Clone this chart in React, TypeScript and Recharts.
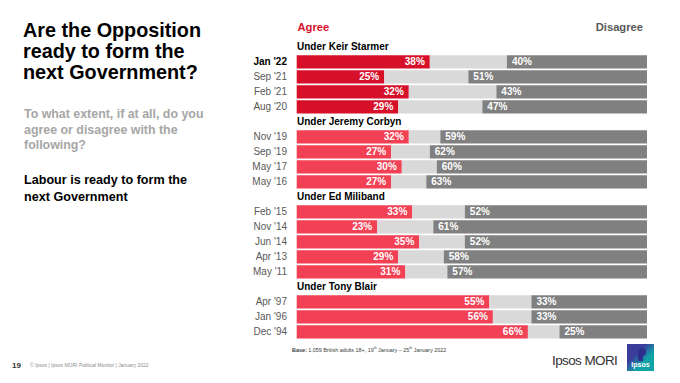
import React from 'react';
import { BarChart, Bar, XAxis, YAxis, Cell, LabelList } from 'recharts';

// survey waves, grouped by Labour leader
const leaders = ['Under Keir Starmer', 'Under Jeremy Corbyn', 'Under Ed Miliband', 'Under Tony Blair'];
const waves = [
    ["Jan '22", "Sep '21", "Feb '21", "Aug '20"],
    ["Nov '19", "Sep '19", "May '17", "May '16"],
    ["Feb '15", "Nov '14", "Jun '14", "Apr '13", "May '11"],
    ["Apr '97", "Jan '96", "Dec '94"],
];
const agree = [
    [38, 25, 32, 29],
    [32, 27, 30, 27],
    [33, 23, 35, 29, 31],
    [55, 56, 66],
];
const disagree = [
    [40, 51, 43, 47],
    [59, 62, 60, 63],
    [52, 61, 52, 58, 57],
    [33, 33, 25],
];

type Row = {
    key: string;
    header: boolean;
    group: number;
    agree?: number;
    neither?: number;
    disagree?: number;
};

// one header row per leader, then that leader's waves
const rows: Row[] = [];
leaders.forEach((name, g) => {
    rows.push({ key: name, header: true, group: g });
    waves[g].forEach((w, i) => {
        rows.push({
            key: w,
            header: false,
            group: g,
            agree: agree[g][i],
            neither: 100 - agree[g][i] - disagree[g][i],
            disagree: disagree[g][i],
        });
    });
});

const FONT = '"Liberation Sans", Arial, sans-serif';
const DARK_RED = '#d7102a';
const LIGHT_RED = '#f24055';

const RowTick = (props: any) => {
    const { y, payload } = props;
    const row = rows.find(r => r.key === payload.value);
    if (!row) return null;
    if (row.header) {
        return (
            <text x={297} y={y} dy="0.35em" fontSize={10} fontWeight={700} fill="#000" fontFamily={FONT}>
                {row.key}
            </text>
        );
    }
    const first = row.key === "Jan '22";
    return (
        <text x={287} y={y} dy="0.35em" textAnchor="end" fontSize={10}
              fontWeight={first ? 700 : 400} fill={first ? '#000' : '#595959'} fontFamily={FONT}>
            {row.key}
        </text>
    );
};

const AgreeLabel = (props: any) => {
    const { x, y, width, height, value } = props;
    if (value == null) return null;
    return (
        <text x={x + width - 5} y={y + height / 2} dy="0.35em" textAnchor="end"
              fontSize={10} fontWeight={700} fill="#fff" fontFamily={FONT}>
            {value}%
        </text>
    );
};

const DisagreeLabel = (props: any) => {
    const { x, y, height, value } = props;
    if (value == null) return null;
    return (
        <text x={x + 5} y={y + height / 2} dy="0.35em"
              fontSize={10} fontWeight={700} fill="#fff" fontFamily={FONT}>
            {value}%
        </text>
    );
};

const abs = (s: React.CSSProperties): React.CSSProperties => ({ position: 'absolute', fontFamily: FONT, margin: 0, ...s });

const App: React.FC = () => (
    <div style={{ position: 'absolute', left: 0, top: 0, width: 680, height: 383, background: '#fff', overflow: 'hidden' }}>
        <div style={abs({ left: 23, top: 20, fontSize: 19.8, lineHeight: '21px', fontWeight: 700, color: '#000' })}>
            Are the Opposition<br />ready to form the<br />next Government?
        </div>
        <div style={abs({ left: 24, top: 107, fontSize: 12.4, lineHeight: '15.7px', fontWeight: 700, color: '#a6a6a6' })}>
            To what extent, if at all, do you<br />agree or disagree with the<br />following?
        </div>
        <div style={abs({ left: 24, top: 172, fontSize: 12.6, lineHeight: '16.5px', fontWeight: 700, color: '#000' })}>
            Labour is ready to form the<br />next Government
        </div>

        <div style={abs({ left: 297.5, top: 20.5, fontSize: 11.2, lineHeight: '13px', fontWeight: 700, color: DARK_RED })}>Agree</div>
        <div style={abs({ right: 37, top: 20.5, fontSize: 11.2, lineHeight: '13px', fontWeight: 700, color: '#595959' })}>Disagree</div>

        <div style={{ position: 'absolute', left: 0, top: 0 }}>
            <BarChart
                width={680}
                height={383}
                data={rows}
                layout="vertical"
                barSize={13.4}
                margin={{ top: 39.2, right: 33, bottom: 43.8, left: 0 }}
            >
                <XAxis type="number" domain={[0, 100]} hide />
                <YAxis type="category" dataKey="key" width={296.7} axisLine={false} tickLine={false}
                       interval={0} tick={<RowTick />} />
                <Bar dataKey="agree" stackId="s" isAnimationActive={false}>
                    {rows.map(r => (
                        <Cell key={r.key} fill={r.group === 0 ? DARK_RED : LIGHT_RED} />
                    ))}
                    <LabelList dataKey="agree" content={<AgreeLabel />} />
                </Bar>
                <Bar dataKey="neither" stackId="s" fill="#d9d9d9" isAnimationActive={false} />
                <Bar dataKey="disagree" stackId="s" fill="#808080" isAnimationActive={false}>
                    <LabelList dataKey="disagree" content={<DisagreeLabel />} />
                </Bar>
            </BarChart>
        </div>

        <div style={abs({ left: 292, top: 344.5, fontSize: 5.4, lineHeight: '7px', color: '#404040', whiteSpace: 'nowrap' })}>
            <b>Base:</b> 1,059 British adults 18+, 19<sup style={{ fontSize: 3.5 }}>th</sup> January – 25<sup style={{ fontSize: 3.5 }}>th</sup> January 2022
        </div>
        <div style={abs({ left: 12, top: 361, fontSize: 8, lineHeight: '9px', fontWeight: 700, color: '#333' })}>19</div>
        <div style={abs({ left: 30, top: 362, fontSize: 5, lineHeight: '7px', color: '#8c8c8c', whiteSpace: 'nowrap' })}>
            © Ipsos | Ipsos MORI Political Monitor | January 2022
        </div>

        <div style={abs({ left: 552, top: 352, fontSize: 13.5, lineHeight: '17px', color: '#333', letterSpacing: -0.6, whiteSpace: 'nowrap' })}>
            Ipsos MORI
        </div>
        <svg style={{ position: 'absolute', left: 627, top: 344 }} width={27} height={27}>
            <defs>
                <linearGradient id="ipsosLogo" x1="0" y1="0" x2="1" y2="1">
                    <stop offset="0.35" stopColor="#3a3d9c" />
                    <stop offset="0.65" stopColor="#0fa3a8" />
                </linearGradient>
            </defs>
            <rect x={0} y={0} width={27} height={27} fill="url(#ipsosLogo)" />
            <circle cx={15} cy={8} r={4} fill="#2d2f8c" />
            <rect x={11} y={9} width={5} height={8} fill="#2d2f8c" />
            <text x={13.5} y={23} textAnchor="middle" fontSize={7} fontWeight={700} fill="#fff" fontFamily={FONT}>Ipsos</text>
        </svg>
    </div>
);

export default App;
